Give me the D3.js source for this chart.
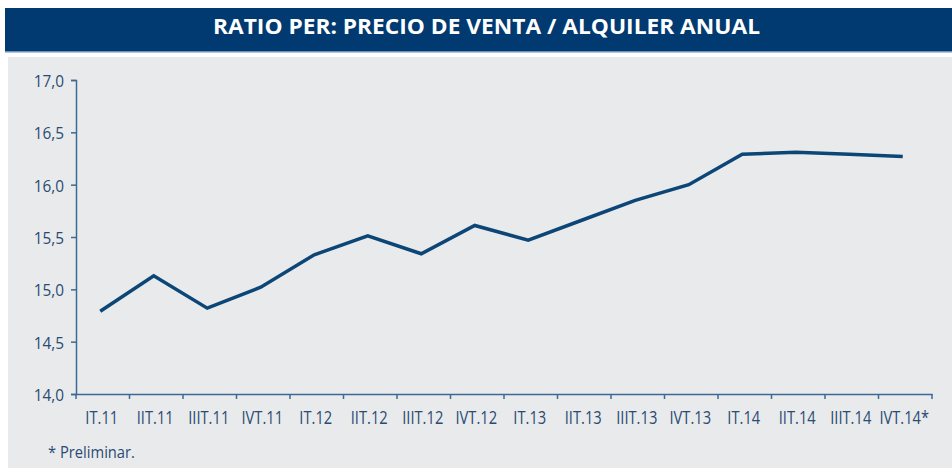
<!DOCTYPE html>
<html><head><meta charset="utf-8">
<script src="https://cdn.jsdelivr.net/npm/d3@7"></script>
<style>
html,body{margin:0;padding:0;background:#fff;}
svg{display:block;}
</style></head>
<body><svg id="c" width="952" height="468"></svg>
<script>
const title = "RATIO PER: PRECIO DE VENTA / ALQUILER ANUAL";
const footnote = "* Preliminar.";
const categories = ["IT.11","IIT.11","IIIT.11","IVT.11","IT.12","IIT.12","IIIT.12","IVT.12","IT.13","IIT.13","IIIT.13","IVT.13","IT.14","IIT.14","IIIT.14","IVT.14*"];
const values = [14.79,15.13,14.82,15.02,15.33,15.51,15.34,15.61,15.47,15.66,15.85,16.00,16.29,16.31,16.29,16.27];
const yTicks = [14.0,14.5,15.0,15.5,16.0,16.5,17.0];

const svg = d3.select("#c");
const font = "'Open Sans', 'Noto Sans', sans-serif";
const navy = "#003a70", axisC = "#3d6a94", textC = "#2a4b72", lineC = "#0b4677";

function squeeze(sel, f){
  sel.each(function(){
    const w = this.getComputedTextLength();
    d3.select(this).attr("textLength", w*f).attr("lengthAdjust","spacingAndGlyphs");
  });
}

// title bar
svg.append("rect").attr("x",5).attr("y",8).attr("width",947).attr("height",43).attr("fill",navy);
svg.append("rect").attr("x",5).attr("y",51).attr("width",947).attr("height",1.5).attr("fill","#6f93b8");
svg.append("text").attr("x",486.5).attr("y",33.5).attr("text-anchor","middle")
  .attr("font-family",font).attr("font-weight",700).attr("font-size",22)
  .attr("textLength",547).attr("lengthAdjust","spacingAndGlyphs")
  .attr("fill","#fff").text(title);

// panel
svg.append("rect").attr("x",8).attr("y",57).attr("width",944).attr("height",411).attr("fill","#e9eaec");

const x = d3.scaleBand().domain(categories).range([76,932]);
const y = d3.scaleLinear().domain([14,17]).range([394,80]);

const yAxis = svg.append("g").attr("transform","translate(76,0)")
  .call(d3.axisLeft(y).tickValues(yTicks).tickSize(5).tickPadding(6)
    .tickFormat(d => d3.format(".1f")(d).replace(".",",")));
const xAxis = svg.append("g").attr("transform","translate(0,394)")
  .call(d3.axisBottom(x).tickSize(0).tickPadding(13));

[yAxis,xAxis].forEach(g=>{
  g.selectAll("path.domain").attr("stroke",axisC).attr("stroke-width",1.5);
  g.selectAll("line").attr("stroke",axisC).attr("stroke-width",1.5);
  g.selectAll("text").attr("font-family",font).attr("fill",textC).attr("font-size",16.5);
});
yAxis.selectAll(".tick text").attr("x",-12).attr("dy","0.4em");
xAxis.selectAll(".tick text").attr("y",30).attr("dy",0).attr("dx",-1).attr("font-size",17.5);
squeeze(yAxis.selectAll(".tick text"), 0.93);
squeeze(xAxis.selectAll(".tick text"), 0.84);
// boundary ticks on x axis
const bounds = categories.map(c=>x(c)).concat([x.range()[1]]);
svg.append("g").selectAll("line").data(bounds).join("line")
  .attr("x1",d=>d).attr("x2",d=>d).attr("y1",394).attr("y2",399)
  .attr("stroke",axisC).attr("stroke-width",1.5);

const line = d3.line().x((d,i)=>x(categories[i])+x.bandwidth()/2-2.5).y(d=>y(d));
svg.append("path").datum(values).attr("d",line).attr("fill","none")
  .attr("stroke",lineC).attr("stroke-width",3.5).attr("stroke-linejoin","miter");

const fn = svg.append("text").attr("x",48).attr("y",458).attr("font-family",font).attr("font-size",16)
  .attr("fill",textC).text(footnote);
squeeze(fn, 0.92);
</script></body></html>
